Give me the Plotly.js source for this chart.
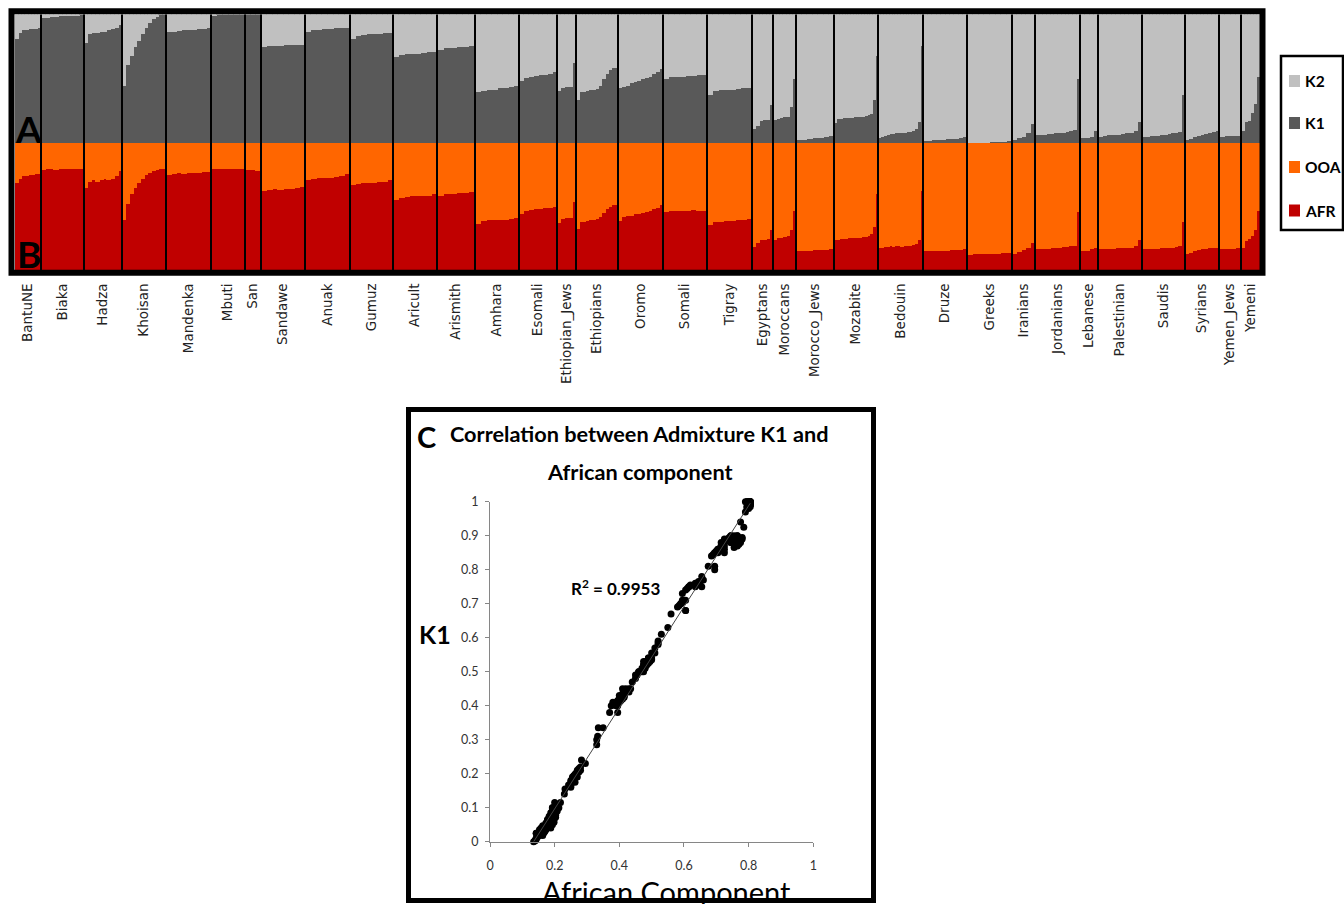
<!DOCTYPE html>
<html><head><meta charset="utf-8">
<script src="https://cdn.plot.ly/plotly-3.0.1.min.js"></script>
<style>html,body{margin:0;padding:0;background:#fff;overflow:hidden}#chart{width:1344px;height:904px}</style>
</head><body><div id="chart"></div>
<script>
// ---------- DATA ----------
const populations = ['BantuNE','Biaka','Hadza','Khoisan','Mandenka','Mbuti','San','Sandawe','Anuak','Gumuz',
  'Aricult','Arismith','Amhara','Esomali','Ethiopian_Jews','Ethiopians','Oromo','Somali','Tigray','Egyptans',
  'Moroccans','Morocco_Jews','Mozabite','Bedouin','Druze','Greeks','Iranians','Jordanians','Lebanese','Palestinian',
  'Saudis','Syrians','Yemen_Jews','Yemeni'];
const popSizes = [26,43,38,44,45,34,16,44,45,43,44,38,44,38,19,42,45,44,45,21,23,38,44,45,44,45,23,45,18,44,43,34,22,19];
// K1 ancestry fraction (panel A), individuals sorted within each population
const k1Steps = [
  [0.81,0.86,0.88,0.88,0.89,0.89,0.89,0.90],
  [0.98,0.98,0.985,0.985,0.99,0.99,0.99,0.995,0.995,1.0],
  [0.78,0.85,0.86,0.86,0.87,0.87,0.88,0.89,0.90,0.925],
  [0.45,0.61,0.68,0.75,0.80,0.85,0.90,0.94,0.97,0.985,1.0,1.0],
  [0.865,0.87,0.875,0.88,0.88,0.885,0.89,0.89,0.895],
  [0.995,1,1,1,1,1],
  [1,1,1],
  [0.75,0.755,0.76,0.76,0.765,0.765,0.77,0.77],
  [0.87,0.88,0.885,0.89,0.89,0.895,0.90,0.90],
  [0.81,0.84,0.845,0.85,0.85,0.855,0.86,0.86],
  [0.67,0.69,0.695,0.70,0.70,0.705,0.71,0.71],
  [0.73,0.74,0.745,0.75,0.75,0.755],
  [0.40,0.41,0.42,0.42,0.43,0.435,0.44,0.45],
  [0.49,0.51,0.52,0.525,0.53,0.535,0.54,0.555],
  [0.41,0.43,0.44,0.44,0.63],
  [0.335,0.40,0.40,0.41,0.415,0.42,0.425,0.45,0.50,0.54,0.57,0.585,0.59],
  [0.43,0.44,0.45,0.47,0.48,0.49,0.50,0.51,0.52,0.54,0.555,0.58],
  [0.50,0.515,0.52,0.52,0.525,0.525,0.53,0.53],
  [0.38,0.41,0.415,0.42,0.42,0.425,0.43,0.43],
  [0.115,0.14,0.175,0.18,0.185,0.30],
  [0.18,0.19,0.20,0.205,0.21,0.285,0.50],
  [0.025,0.03,0.035,0.04,0.045,0.05,0.057],
  [0.16,0.19,0.19,0.195,0.195,0.20,0.20,0.205,0.205,0.21,0.21,0.215,0.22,0.23,0.335,0.68],
  [0.04,0.05,0.057,0.065,0.072,0.075,0.078,0.08,0.082,0.085,0.087,0.09,0.10,0.115,0.167,0.76],
  [0.018,0.022,0.025,0.028,0.03,0.032,0.035,0.038,0.042,0.047],
  [0,0.003,0.005,0.007,0.01,0.012,0.015,0.018],
  [0.025,0.04,0.05,0.078,0.155],
  [0.064,0.068,0.07,0.072,0.075,0.078,0.082,0.085,0.09,0.097,0.108,0.50],
  [0.04,0.04,0.05,0.10],
  [0.05,0.06,0.065,0.068,0.07,0.075,0.08,0.085,0.097,0.167],
  [0.05,0.052,0.055,0.06,0.062,0.065,0.07,0.075,0.08,0.085,0.09,0.38],
  [0.025,0.035,0.047,0.055,0.065,0.075,0.085,0.09,0.097],
  [0.05,0.055,0.06,0.062],
  [0.10,0.167,0.175,0.24,0.31,0.52]
];
// African (AFR) fraction (panel B), same individuals
const afrSteps = [
  [0.695,0.725,0.745,0.745,0.755,0.755,0.765,0.765],
  [0.795,0.80,0.805,0.795,0.805,0.805,0.80,0.805,0.805,0.805],
  [0.655,0.705,0.715,0.705,0.715,0.725,0.715,0.725,0.745,0.785],
  [0.41,0.53,0.605,0.655,0.695,0.725,0.755,0.775,0.79,0.795,0.805,0.805],
  [0.755,0.765,0.77,0.765,0.775,0.77,0.775,0.78,0.78],
  [0.805,0.805,0.805,0.805,0.80,0.80],
  [0.795,0.795,0.79],
  [0.635,0.64,0.645,0.64,0.645,0.65,0.655,0.66],
  [0.715,0.725,0.73,0.735,0.735,0.74,0.745,0.765],
  [0.675,0.685,0.69,0.695,0.695,0.70,0.705,0.715],
  [0.56,0.58,0.585,0.59,0.59,0.595,0.595,0.605],
  [0.595,0.605,0.61,0.615,0.615,0.62],
  [0.375,0.40,0.405,0.405,0.41,0.41,0.415,0.42],
  [0.45,0.48,0.485,0.49,0.495,0.50,0.50,0.51],
  [0.38,0.415,0.42,0.42,0.55],
  [0.335,0.39,0.395,0.40,0.405,0.41,0.415,0.43,0.46,0.49,0.51,0.52,0.52],
  [0.40,0.43,0.435,0.44,0.45,0.455,0.46,0.47,0.48,0.49,0.50,0.52],
  [0.47,0.48,0.475,0.48,0.48,0.485,0.48,0.475],
  [0.37,0.39,0.395,0.40,0.40,0.405,0.41,0.415],
  [0.20,0.23,0.25,0.255,0.26,0.33],
  [0.25,0.27,0.265,0.275,0.28,0.33,0.475],
  [0.163,0.168,0.168,0.173,0.173,0.173,0.178],
  [0.25,0.255,0.26,0.26,0.26,0.265,0.265,0.27,0.27,0.27,0.275,0.275,0.28,0.295,0.35,0.605],
  [0.188,0.193,0.198,0.198,0.203,0.198,0.203,0.203,0.198,0.203,0.203,0.208,0.213,0.218,0.25,0.635],
  [0.163,0.163,0.165,0.168,0.168,0.17,0.173,0.173,0.175,0.18],
  [0.135,0.14,0.14,0.143,0.143,0.145,0.148,0.153],
  [0.143,0.158,0.173,0.193,0.232],
  [0.178,0.183,0.183,0.185,0.188,0.19,0.193,0.198,0.198,0.203,0.203,0.465],
  [0.163,0.163,0.178,0.193],
  [0.178,0.183,0.183,0.183,0.188,0.188,0.193,0.193,0.203,0.25],
  [0.178,0.18,0.183,0.183,0.185,0.188,0.188,0.19,0.193,0.198,0.203,0.395],
  [0.143,0.153,0.163,0.173,0.178,0.183,0.188,0.193,0.193],
  [0.18,0.183,0.183,0.188],
  [0.193,0.243,0.263,0.283,0.333,0.475]
];
const legendLabels = ['K2','K1','OOA','AFR'];
const componentColors = {K2:'#c0c0c0', K1:'#595959', OOA:'#ff6600', AFR:'#c00000'};
const r2Text = 'R<sup>2</sup> = 0.9953';

// ---------- BUILD ----------
const W = 1344, H = 904;
const px = v => v / W;
const py = v => 1 - v / H;

const xs = [], ws = [], k1 = [], k2 = [], afr = [], ooa = [];
const bounds = [0], centers = [];
let start = 0;
populations.forEach((p, i) => {
  const n = k1Steps[i].length, w = popSizes[i] / n;
  for (let j = 0; j < n; j++) {
    xs.push(start + (j + 0.5) * w); ws.push(w);
    k1.push(k1Steps[i][j]); k2.push(1 - k1Steps[i][j]);
    afr.push(afrSteps[i][j]); ooa.push(1 - afrSteps[i][j]);
  }
  centers.push(start + popSizes[i] / 2);
  start += popSizes[i];
  bounds.push(start);
});
const total = start;

function barTrace(y, color, yaxis, name) {
  return {type:'bar', x:xs, y:y, width:ws, xaxis:'x', yaxis:yaxis, name:name,
    marker:{color:color, line:{color:color, width:1}}, showlegend:false, hoverinfo:'skip'};
}

// least squares trendline (K1 on AFR)
const nPts = afr.length;
const mx = afr.reduce((a,b)=>a+b,0)/nPts, my = k1.reduce((a,b)=>a+b,0)/nPts;
let sxy = 0, sxx = 0;
for (let i = 0; i < nPts; i++) { sxy += (afr[i]-mx)*(k1[i]-my); sxx += (afr[i]-mx)**2; }
const slope = sxy / sxx, icpt = my - slope * mx;
const xMin = Math.min(...afr), xMax = Math.max(...afr);

const traces = [
  barTrace(k1, componentColors.K1, 'y', 'K1'),
  barTrace(k2, componentColors.K2, 'y', 'K2'),
  barTrace(afr, componentColors.AFR, 'y2', 'AFR'),
  barTrace(ooa, componentColors.OOA, 'y2', 'OOA'),
  {type:'scatter', mode:'markers', x:afr, y:k1, xaxis:'x2', yaxis:'y3', cliponaxis:false,
    marker:{color:'#000', size:7}, showlegend:false, hoverinfo:'skip'},
  {type:'scatter', mode:'lines', x:[xMin, xMax], y:[icpt + slope*xMin, icpt + slope*xMax], xaxis:'x2', yaxis:'y3',
    cliponaxis:false, line:{color:'#444', width:1}, showlegend:false, hoverinfo:'skip'}
];

const cal = 'Lato, Liberation Sans, Arial, sans-serif';
const shapes = [];
// population separators
for (let i = 1; i < bounds.length - 1; i++) {
  shapes.push({type:'line', xref:'x', yref:'paper', x0:bounds[i], x1:bounds[i], y0:py(270), y1:py(14.5),
    line:{color:'#000', width:2}});
}
// top frame
shapes.push({type:'rect', xref:'paper', yref:'paper', x0:px(11.5), x1:px(1262.5), y0:py(272.7), y1:py(11.2),
  line:{color:'#000', width:6}});
// legend frame & swatches
shapes.push({type:'rect', xref:'paper', yref:'paper', x0:px(1281), x1:px(1343), y0:py(230), y1:py(56),
  line:{color:'#000', width:2.5}});
const legY = [81, 123, 167, 210.5];
legendLabels.forEach((l, i) => {
  shapes.push({type:'rect', xref:'paper', yref:'paper', x0:px(1289), x1:px(1300), y0:py(legY[i]+6), y1:py(legY[i]-6),
    fillcolor:componentColors[l], line:{width:0}});
});
// panel C frame
shapes.push({type:'rect', xref:'paper', yref:'paper', x0:px(408.5), x1:px(873.5), y0:py(900.5), y1:py(409.5),
  line:{color:'#000', width:5}});

const ann = (text, x, y, size, weight, xanchor) => ({text, xref:'paper', yref:'paper', x:px(x), y:py(y),
  xanchor: xanchor || 'center', yanchor:'middle', showarrow:false,
  font:{family:cal, size, color:'#000', weight: weight === undefined ? 700 : weight}});

const annotations = [
  ann('A', 28.5, 128, 37),
  ann('B', 29, 254, 37),
  ...legendLabels.map((l, i) => ann(l, 1302.5, legY[i], 15.5, 700, 'left')),
  ann('C', 426, 436, 29),
  ann('Correlation between Admixture K1 and', 639, 434, 21.7),
  ann('African component', 639.5, 472, 21.7),
  ann(r2Text, 615, 587, 17),
  ann('K1', 435, 634, 25),
  ann('African Component', 666, 891, 29, 400)
];

const tickFont = {family:cal, size:12.5, color:'#333'};
const layout = {
  width:W, height:H, autosize:false, margin:{l:0, r:0, t:0, b:0, pad:0},
  paper_bgcolor:'#fff', plot_bgcolor:'rgba(0,0,0,0)', barmode:'stack', bargap:0, showlegend:false,
  xaxis:{domain:[px(15), px(1260)], range:[0, total], anchor:'y2', tickvals:centers, ticktext:populations,
    tickangle:-90, tickfont:{family:'DejaVu Sans, sans-serif', size:13.5, color:'#222'},
    ticks:'outside', ticklen:7, tickcolor:'rgba(0,0,0,0)', showline:false, showgrid:false, zeroline:false, fixedrange:true},
  yaxis:{domain:[py(143), py(14.5)], range:[0, 1], visible:false, fixedrange:true},
  yaxis2:{domain:[py(270), py(143)], range:[0.015, 1], visible:false, fixedrange:true},
  xaxis2:{domain:[px(490), px(813.3)], range:[0, 1], anchor:'y3', dtick:0.2, tick0:0, showline:true, linecolor:'#868686',
    linewidth:1, ticks:'outside', ticklen:4, tickcolor:'#868686', showgrid:false, zeroline:false,
    tickfont:tickFont, ticklabelstandoff:8, fixedrange:true},
  yaxis3:{domain:[py(841.7), py(501.7)], range:[0, 1], anchor:'x2', dtick:0.1, tick0:0, showline:true, linecolor:'#868686',
    linewidth:1, ticks:'outside', ticklen:4, tickcolor:'#868686', showgrid:false, zeroline:false,
    tickfont:tickFont, ticklabelstandoff:4, fixedrange:true},
  shapes, annotations
};

Plotly.newPlot('chart', traces, layout, {displayModeBar:false, staticPlot:true});
</script></body></html>
